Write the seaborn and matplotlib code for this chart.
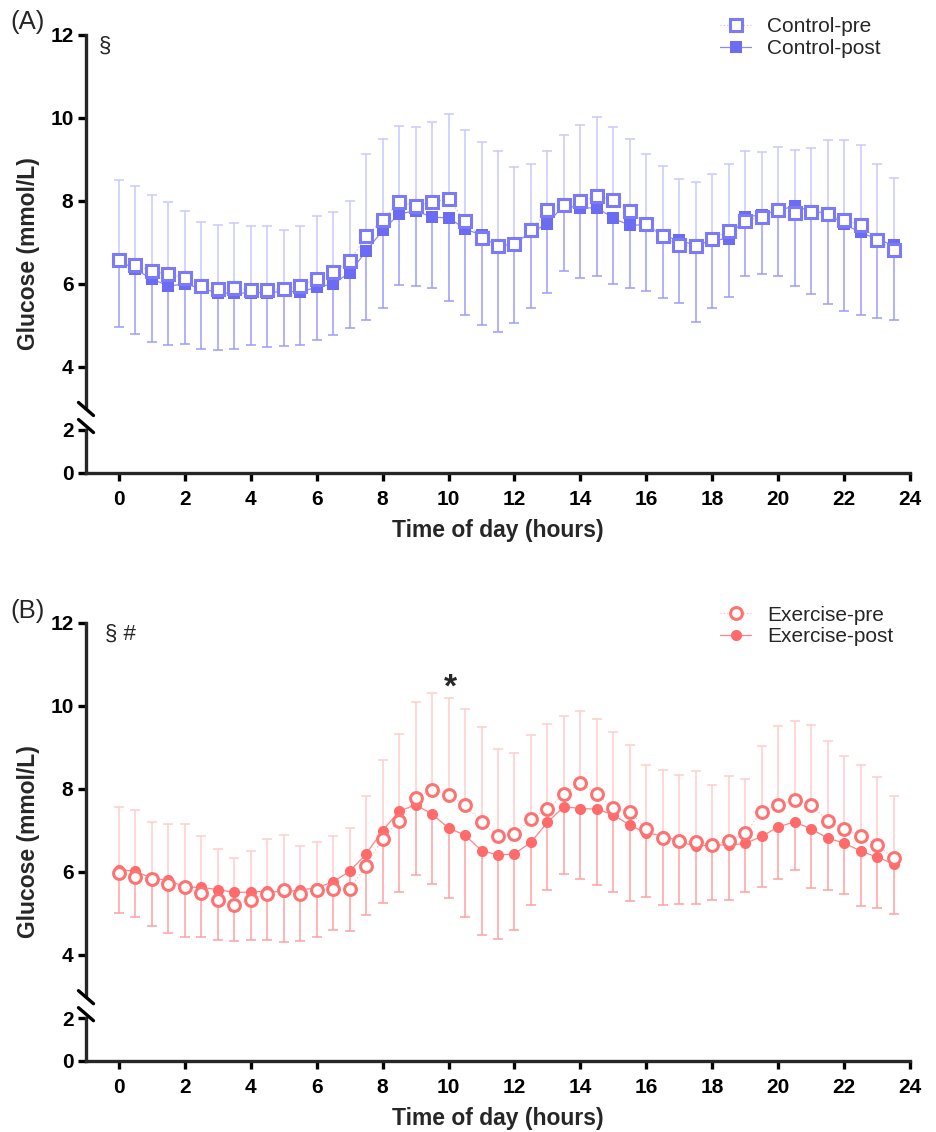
import numpy as np
import pandas as pd
import matplotlib
matplotlib.use('Agg')
import matplotlib.pyplot as plt
from matplotlib.lines import Line2D
import seaborn as sns

hours = np.arange(0, 24, 0.5)

ctrl_pre = [6.56, 6.44, 6.30, 6.22, 6.14, 5.94, 5.86, 5.90, 5.84, 5.85, 5.86, 5.94,
            6.12, 6.27, 6.54, 7.14, 7.54, 7.96, 7.87, 7.96, 8.04, 7.50, 7.10, 6.91,
            6.95, 7.28, 7.77, 7.88, 7.98, 8.10, 8.01, 7.75, 7.44, 7.14, 6.92, 6.91,
            7.07, 7.27, 7.51, 7.61, 7.77, 7.70, 7.73, 7.68, 7.53, 7.41, 7.06, 6.80]
ctrl_pre_upper = [8.49, 8.36, 8.14, 7.97, 7.74, 7.48, 7.42, 7.45, 7.39, 7.39, 7.30, 7.38,
                  7.63, 7.73, 8.00, 9.11, 9.49, 9.80, 9.77, 9.89, 10.09, 9.71, 9.41, 9.20,
                  8.81, 8.88, 9.20, 9.58, 9.83, 10.01, 9.76, 9.47, 9.12, 8.82, 8.52, 8.45,
                  8.64, 8.89, 9.20, 9.17, 9.30, 9.21, 9.26, 9.46, 9.45, 9.34, 8.87, 8.54]
ctrl_post = [6.55, 6.34, 6.11, 5.94, 5.99, 5.88, 5.78, 5.76, 5.78, 5.78, 5.81, 5.80,
             5.91, 5.99, 6.26, 6.78, 7.28, 7.68, 7.75, 7.60, 7.58, 7.32, 7.16, 6.88,
             6.97, 7.23, 7.44, 7.89, 7.81, 7.83, 7.57, 7.40, 7.42, 7.15, 7.04, 6.92,
             7.04, 7.08, 7.61, 7.65, 7.77, 7.86, 7.75, 7.69, 7.43, 7.23, 7.07, 6.92]
ctrl_post_lower = [4.94, 4.79, 4.60, 4.53, 4.55, 4.42, 4.39, 4.42, 4.51, 4.47, 4.49, 4.51,
                   4.63, 4.77, 4.93, 5.13, 5.41, 5.96, 5.93, 5.89, 5.57, 5.23, 4.99, 4.83,
                   5.04, 5.41, 5.77, 6.31, 6.14, 6.19, 5.98, 5.89, 5.82, 5.64, 5.53, 5.08,
                   5.42, 5.68, 6.18, 6.24, 6.19, 5.95, 5.74, 5.51, 5.34, 5.25, 5.17, 5.12]

ex_pre = [5.98, 5.87, 5.82, 5.71, 5.62, 5.49, 5.32, 5.20, 5.33, 5.46, 5.55, 5.46,
          5.57, 5.59, 5.59, 6.14, 6.80, 7.23, 7.78, 7.98, 7.85, 7.61, 7.19, 6.87,
          6.90, 7.28, 7.50, 7.88, 8.14, 7.87, 7.54, 7.45, 7.03, 6.81, 6.73, 6.71,
          6.65, 6.75, 6.93, 7.45, 7.61, 7.73, 7.61, 7.23, 7.02, 6.86, 6.65, 6.33]
ex_pre_upper = [7.56, 7.48, 7.19, 7.15, 7.16, 6.85, 6.55, 6.33, 6.51, 6.79, 6.88, 6.61,
                6.72, 6.85, 7.05, 7.83, 8.69, 9.31, 10.08, 10.30, 10.19, 9.91, 9.48, 8.96,
                8.86, 9.29, 9.56, 9.75, 9.88, 9.69, 9.36, 9.05, 8.58, 8.45, 8.33, 8.43,
                8.08, 8.30, 8.23, 9.03, 9.51, 9.62, 9.53, 9.14, 8.79, 8.57, 8.28, 7.82]
ex_post = [6.05, 6.01, 5.84, 5.79, 5.63, 5.62, 5.57, 5.50, 5.51, 5.53, 5.51, 5.56,
           5.61, 5.76, 6.01, 6.43, 6.99, 7.46, 7.61, 7.39, 7.05, 6.88, 6.51, 6.40,
           6.43, 6.71, 7.19, 7.57, 7.52, 7.51, 7.37, 7.12, 6.93, 6.87, 6.73, 6.61,
           6.65, 6.64, 6.68, 6.85, 7.08, 7.20, 7.03, 6.81, 6.69, 6.50, 6.35, 6.19]
ex_post_lower = [5.00, 4.91, 4.69, 4.52, 4.43, 4.43, 4.36, 4.34, 4.36, 4.36, 4.31, 4.33,
                 4.43, 4.59, 4.56, 4.96, 5.25, 5.52, 5.93, 5.70, 5.36, 4.90, 4.47, 4.39,
                 4.59, 5.20, 5.56, 5.94, 5.83, 5.68, 5.51, 5.30, 5.40, 5.20, 5.23, 5.23,
                 5.33, 5.32, 5.51, 5.63, 5.82, 6.03, 5.61, 5.57, 5.46, 5.17, 5.12, 4.99]

sns.set_style('ticks')
plt.rcParams['font.family'] = ['Liberation Sans', 'DejaVu Sans']

W, H = 936, 1132
fig = plt.figure(figsize=(W / 100, H / 100), dpi=100)


def fx(px):
    return px / W


def fy(py):
    return 1 - py / H


def draw_panel(top_px, letter, names, pre, pre_up, post, post_lo, marker, cols, note, note_x):
    # top_px = pixel row of y=12, 41.5 px per mmol/L in the upper part
    u = 41.5
    y3 = top_px + 9 * u
    y2 = y3 + 22
    y0 = y2 + 2 * 21.3
    left, right = 86, 910
    ax = fig.add_axes([fx(left), fy(y3), fx(right - left), (y3 - top_px) / H])
    axb = fig.add_axes([fx(left), fy(y0), fx(right - left), (y0 - y2) / H])

    df = pd.DataFrame({'hour': hours, 'pre': pre, 'pre_up': pre_up,
                       'post': post, 'post_lo': post_lo})

    c_pre, c_post, c_eup, c_elo, c_lpre, c_lpost = cols
    # pre: SD upwards, post: SD downwards
    ax.errorbar(df['hour'], df['pre'], yerr=[np.zeros(len(df)), df['pre_up'] - df['pre']],
                fmt='none', ecolor=c_eup, elinewidth=1.1, capsize=3.5, capthick=1.1, zorder=1)
    ax.errorbar(df['hour'], df['post'], yerr=[df['post'] - df['post_lo'], np.zeros(len(df))],
                fmt='none', ecolor=c_elo, elinewidth=1.1, capsize=3.5, capthick=1.1, zorder=1)

    sns.lineplot(data=df, x='hour', y='post', ax=ax, color=c_lpost, lw=0.9,
                 marker=marker, markersize=8, markerfacecolor=c_post,
                 markeredgecolor=c_post, markeredgewidth=0, label=names[1], zorder=3)
    sns.lineplot(data=df, x='hour', y='pre', ax=ax, color=c_lpre, lw=0.9, linestyle=':',
                 marker=marker, markersize=8.5, markerfacecolor='white',
                 markeredgecolor=c_pre, markeredgewidth=2.2, label=names[0], zorder=4)

    for a in (ax, axb):
        a.set_xlim(-1, 24)
        a.set_xlabel('')
        a.set_ylabel('')
        for s in ('top', 'right'):
            a.spines[s].set_visible(False)
        a.spines['left'].set_linewidth(2.4)
        a.spines['bottom'].set_linewidth(2.4)
        a.tick_params(width=2.4, length=6, labelsize=15, colors='black')
    ax.spines['bottom'].set_visible(False)
    ax.set_ylim(3, 12)
    ax.set_yticks([4, 6, 8, 10, 12])
    ax.set_xticks([])
    ax.tick_params(axis='y', pad=3)
    axb.set_ylim(0, 2)
    axb.set_yticks([0, 2])
    axb.set_xticks(range(0, 25, 2))
    axb.tick_params(axis='x', pad=6.5)
    axb.tick_params(axis='y', pad=3)
    for a in (ax, axb):
        for t in a.get_yticklabels() + a.get_xticklabels():
            t.set_fontweight('bold')

    # axis break marks
    for cy in (y3 + 1, y3 + 18):
        fig.add_artist(Line2D([fx(left - 7.5), fx(left + 7.5)], [fy(cy - 6.5), fy(cy + 6.5)],
                              transform=fig.transFigure, color='black', lw=2.4))

    h, l = ax.get_legend_handles_labels()
    ax.legend(h[::-1], l[::-1], loc='upper left', bbox_to_anchor=(fx(720), fy(top_px - 17)),
              bbox_transform=fig.transFigure, frameon=False, fontsize=15,
              handlelength=1.5, handletextpad=0.75, labelspacing=0.12,
              borderpad=0, borderaxespad=0)

    ax.text(note_x, 11.72, note, fontsize=16, ha='left', va='center')
    fig.text(fx(10), fy(top_px - 12), letter, fontsize=18.5, ha='left', va='center')
    fig.text(fx(29), fy((top_px + y0) / 2), 'Glucose (mmol/L)', rotation=90,
             fontsize=16.5, fontweight='bold', ha='center', va='center')
    fig.text(fx(498), fy(y0 + 57.5), 'Time of day (hours)', fontsize=16.5,
             fontweight='bold', ha='center', va='center')
    return ax


blue = ('#7b7bfa', '#6c6cf2', '#c9c9ff', '#9d9dfb', '#c4c4ff', '#8a8af8')
red = ('#ff7272', '#ff6a6a', '#ffcdcd', '#ffa0a0', '#ffc0c0', '#ff8484')

draw_panel(34.5, '(A)', ['Control-pre', 'Control-post'], ctrl_pre, ctrl_pre_upper,
           ctrl_post, ctrl_post_lower, 's', blue, '§', -0.62)
axB = draw_panel(622.7, '(B)', ['Exercise-pre', 'Exercise-post'], ex_pre, ex_pre_upper,
                 ex_post, ex_post_lower, 'o', red, '§ #', -0.42)
axB.text(10.05, 10.42, '*', fontsize=24, fontweight='bold', ha='center', va='center')

fig.savefig('out.png', dpi=100)
